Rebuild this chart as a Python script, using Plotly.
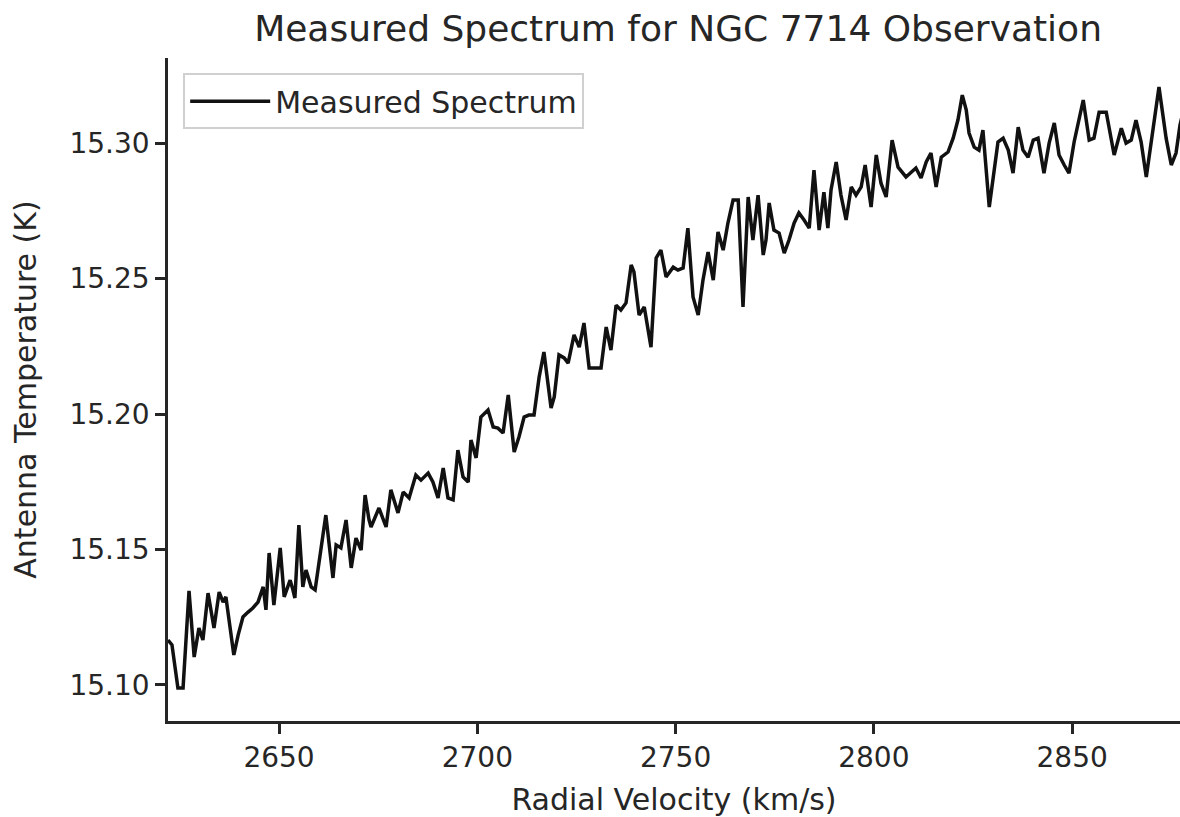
import plotly.graph_objects as go

velocity_kms = [
    2622.0, 2623.0, 2624.5, 2625.8, 2627.3, 2628.6, 2629.8, 2630.8, 2632.1, 2633.6,
    2634.9, 2635.9, 2636.6, 2637.6, 2638.6, 2639.7, 2640.9, 2642.2, 2643.4, 2644.7,
    2646.0, 2646.7, 2647.5, 2648.7, 2650.3, 2651.3, 2652.0, 2652.8, 2653.5, 2654.0,
    2655.0, 2656.0, 2656.8, 2658.1, 2659.1, 2660.1, 2661.8, 2663.6, 2664.4, 2665.6,
    2666.9, 2668.2, 2669.4, 2670.7, 2671.7, 2672.7, 2673.2, 2675.2, 2677.0, 2678.2,
    2680.0, 2681.3, 2682.8, 2684.5, 2685.8, 2687.6, 2688.8, 2690.1, 2691.4, 2692.6,
    2693.9, 2695.1, 2696.4, 2697.7, 2698.4, 2699.7, 2700.9, 2702.7, 2704.0, 2705.2,
    2706.5, 2707.8, 2709.3, 2710.5, 2711.8, 2713.0, 2714.3, 2715.6, 2716.8, 2718.6,
    2719.4, 2720.6, 2721.9, 2722.9, 2724.4, 2725.7, 2726.9, 2728.2, 2729.9, 2731.2,
    2732.5, 2733.7, 2735.0, 2736.2, 2737.5, 2738.8, 2739.5, 2740.8, 2742.1, 2743.8,
    2745.1, 2746.3, 2747.6, 2749.4, 2750.6, 2751.9, 2753.1, 2754.4, 2755.7, 2756.9,
    2758.2, 2759.5, 2760.7, 2762.0, 2763.2, 2764.5, 2765.8, 2767.0, 2768.3, 2769.5,
    2770.8, 2772.1, 2772.8, 2773.6, 2774.8, 2776.1, 2777.4, 2778.6, 2779.9, 2781.1,
    2782.4, 2783.7, 2784.9, 2786.2, 2787.4, 2788.4, 2789.2, 2790.5, 2791.7, 2793.0,
    2794.3, 2795.5, 2796.8, 2797.8, 2799.3, 2800.6, 2801.8, 2803.1, 2804.6, 2806.1,
    2808.1, 2809.4, 2810.6, 2811.9, 2813.2, 2814.4, 2815.7, 2817.0, 2818.7, 2820.0,
    2821.2, 2822.3, 2823.3, 2824.0, 2825.3, 2826.5, 2827.5, 2829.1, 2830.1, 2831.3,
    2832.6, 2833.9, 2835.1, 2836.4, 2837.6, 2838.9, 2840.2, 2841.4, 2842.9, 2844.2,
    2845.5, 2846.7, 2848.0, 2849.2, 2850.5, 2852.8, 2854.3, 2855.5, 2856.8, 2858.6,
    2860.6, 2862.4, 2863.6, 2864.9, 2866.1, 2867.4, 2868.7, 2870.4, 2871.9, 2873.7,
    2875.0, 2876.2, 2877.2, 2878.7,
]

antenna_temp_K = [
    15.1166, 15.1148, 15.0989, 15.0989, 15.1347, 15.1103, 15.1210, 15.1166, 15.1339, 15.1210,
    15.1343, 15.1306, 15.1325, 15.1221, 15.1111, 15.1185, 15.1251, 15.1269, 15.1284, 15.1306,
    15.1362, 15.1277, 15.1487, 15.1295, 15.1506, 15.1325, 15.1351, 15.1387, 15.1351, 15.1321,
    15.1590, 15.1362, 15.1424, 15.1362, 15.1351, 15.1454, 15.1627, 15.1395, 15.1517, 15.1506,
    15.1609, 15.1432, 15.1542, 15.1498, 15.1701, 15.1609, 15.1583, 15.1653, 15.1583, 15.1720,
    15.1635, 15.1712, 15.1690, 15.1775, 15.1756, 15.1782, 15.1749, 15.1690, 15.1801, 15.1690,
    15.1683, 15.1867, 15.1768, 15.1749, 15.1904, 15.1838, 15.1989, 15.2015, 15.1952, 15.1948,
    15.1930, 15.2070, 15.1860, 15.1915, 15.1989, 15.1996, 15.1996, 15.2137, 15.2229, 15.2022,
    15.2063, 15.2218, 15.2207, 15.2188, 15.2292, 15.2247, 15.2336, 15.2170, 15.2170, 15.2170,
    15.2321, 15.2236, 15.2402, 15.2384, 15.2410, 15.2550, 15.2524, 15.2365, 15.2395, 15.2247,
    15.2576, 15.2605, 15.2506, 15.2542, 15.2531, 15.2539, 15.2686, 15.2432, 15.2365, 15.2494,
    15.2598, 15.2494, 15.2672, 15.2605, 15.2705, 15.2790, 15.2790, 15.2395, 15.2801, 15.2642,
    15.2808, 15.2587, 15.2642, 15.2779, 15.2679, 15.2668, 15.2594, 15.2642, 15.2705, 15.2742,
    15.2716, 15.2686, 15.2900, 15.2679, 15.2819, 15.2686, 15.2827, 15.2930, 15.2808, 15.2716,
    15.2838, 15.2808, 15.2838, 15.2919, 15.2764, 15.2956, 15.2852, 15.2801, 15.3011, 15.2911,
    15.2875, 15.2893, 15.2908, 15.2871, 15.2930, 15.2963, 15.2838, 15.2948, 15.2967, 15.3018,
    15.3085, 15.3177, 15.3122, 15.3037, 15.2985, 15.2974, 15.3048, 15.2764, 15.2863, 15.3004,
    15.3018, 15.2974, 15.2889, 15.3059, 15.2974, 15.2948, 15.3011, 15.3018, 15.2889, 15.3000,
    15.3074, 15.2956, 15.2919, 15.2889, 15.3004, 15.3159, 15.3011, 15.3018, 15.3114, 15.3114,
    15.2956, 15.3055, 15.3000, 15.3011, 15.3085, 15.3004, 15.2875, 15.3041, 15.3207, 15.3018,
    15.2919, 15.2963, 15.3066, 15.3159,
]

x_ticks = [2650, 2700, 2750, 2800, 2850]
y_ticks = [15.10, 15.15, 15.20, 15.25, 15.30]

TXT = "#262626"
FONT = "DejaVu Sans"

fig = go.Figure()
fig.add_trace(go.Scatter(
    x=velocity_kms, y=antenna_temp_K, mode="lines", name="Measured Spectrum",
    line=dict(color="#111111", width=3.5),
))

fig.update_layout(
    width=1180, height=817, autosize=False,
    margin=dict(l=168, r=0, t=58, b=96),
    plot_bgcolor="white", paper_bgcolor="white",
    font=dict(family=FONT, color=TXT, size=28),
    title=dict(text="Measured Spectrum for NGC 7714 Observation",
               x=0.504, xref="paper", xanchor="center",
               y=0.965, yref="container", yanchor="middle",
               font=dict(size=36, color=TXT, family=FONT)),
    showlegend=True,
    legend=dict(x=0.015, y=0.977, xanchor="left", yanchor="top",
                itemwidth=80,
                bgcolor="rgba(255,255,255,0.8)", bordercolor="#d0d0d0", borderwidth=2,
                font=dict(size=30, color=TXT, family=FONT)),
    xaxis=dict(
        range=[2622.0, 2877.2], tickvals=x_ticks, ticktext=[str(v) for v in x_ticks],
        showgrid=False, zeroline=False, showline=True, linecolor=TXT, linewidth=2.5,
        ticks="outside", ticklen=10, tickwidth=2.5, tickcolor=TXT,
        tickfont=dict(size=28, color=TXT, family=FONT),
        title=dict(text="Radial Velocity (km/s)", font=dict(size=30, color=TXT, family=FONT), standoff=16),
        automargin=False,
    ),
    yaxis=dict(
        range=[15.0867, 15.3314], tickvals=y_ticks, ticktext=[f"{v:.2f}" for v in y_ticks],
        showgrid=False, zeroline=False, showline=True, linecolor=TXT, linewidth=2.5,
        ticks="outside", ticklen=10, tickwidth=2.5, tickcolor=TXT,
        tickfont=dict(size=28, color=TXT, family=FONT),
        title=dict(text="Antenna Temperature (K)", font=dict(size=30, color=TXT, family=FONT), standoff=24),
        automargin=False,
    ),
)

fig.write_html("out.html")
